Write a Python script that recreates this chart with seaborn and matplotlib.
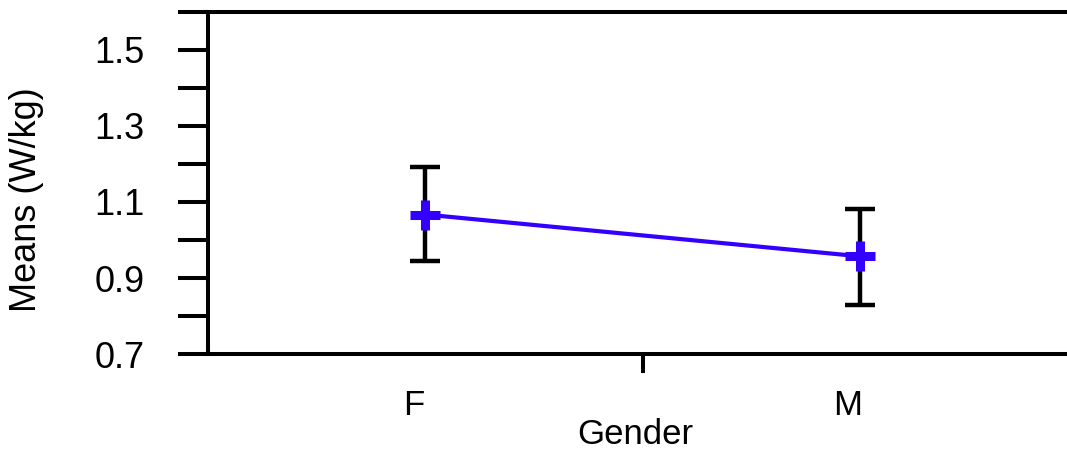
import matplotlib
matplotlib.use("Agg")
import matplotlib.pyplot as plt
import matplotlib.transforms as mtransforms
from matplotlib.ticker import FixedLocator
import numpy as np
import pandas as pd
import seaborn as sns

# Mean power output by gender, with error bar limits
genders = ["F", "M"]
means = [1.067, 0.957]
err_low = [0.945, 0.828]
err_high = [1.192, 1.082]

y_ticks = [0.7, 0.8, 0.9, 1.0, 1.1, 1.2, 1.3, 1.4, 1.5, 1.6]
y_labels = ["0.7", "", "0.9", "", "1.1", "", "1.3", "", "1.5", ""]

sns.set_theme(style="white")
plt.rcParams["font.family"] = ["Liberation Sans", "DejaVu Sans"]
plt.rcParams["text.color"] = "black"
plt.rcParams["axes.labelcolor"] = "black"
plt.rcParams["xtick.color"] = "black"
plt.rcParams["ytick.color"] = "black"

df = pd.DataFrame({"Gender": genders, "Mean": means})

fig = plt.figure(figsize=(10.67, 4.51), dpi=100)
ax = fig.add_axes([0.195, 0.215, 0.805, 0.7586])

x_pos = np.arange(len(genders))
lo = np.array(means) - np.array(err_low)
hi = np.array(err_high) - np.array(means)
ax.errorbar(x_pos, means, yerr=[lo, hi], fmt="none", ecolor="black",
            elinewidth=3.2, capsize=11, capthick=3.2, zorder=2)

sns.pointplot(data=df, x="Gender", y="Mean", order=genders, color="#3300ff",
              markers="+", linestyles="-", errorbar=None, ax=ax,
              markersize=22, markeredgewidth=6.5, linewidth=3.0, zorder=3)

ax.set_xlim(-0.5, 1.476)
ax.set_ylim(0.7, 1.6)

# y axis ticks
ax.yaxis.set_major_locator(FixedLocator(y_ticks))
ax.set_yticklabels(y_labels)
ax.tick_params(axis="y", which="major", direction="out", length=21.5, width=2.9,
               colors="black", labelsize=26, pad=24, left=True)

# x axis: unmarked category positions, one tick between the groups
ax.set_xticks(x_pos)
ax.set_xticklabels(genders)
ax.set_xticks([0.5], minor=True)
ax.tick_params(axis="x", which="major", length=0, labelsize=25, pad=25,
               labelcolor="black")
ax.tick_params(axis="x", which="minor", direction="out", length=14, width=2.9,
               color="black", bottom=True)
shift = mtransforms.ScaledTranslation(-12 / 100, 0, fig.dpi_scale_trans)
for lab in ax.get_xticklabels():
    lab.set_transform(lab.get_transform() + shift)

ax.set_xlabel("Gender", fontsize=25, color="black")
ax.xaxis.set_label_coords(0.497, -0.235, transform=ax.transAxes)
ax.xaxis.label.set_verticalalignment("center")
ax.set_ylabel("Means (W/kg)", fontsize=26, color="black")
ax.yaxis.set_label_coords(-0.211, 0.45, transform=ax.transAxes)
ax.yaxis.label.set_verticalalignment("center")

for side in ["left", "top", "bottom"]:
    ax.spines[side].set_visible(True)
    ax.spines[side].set_color("black")
    ax.spines[side].set_linewidth(2.9)
ax.spines["right"].set_visible(False)
ax.grid(False)

fig.savefig("out.png", dpi=100)
